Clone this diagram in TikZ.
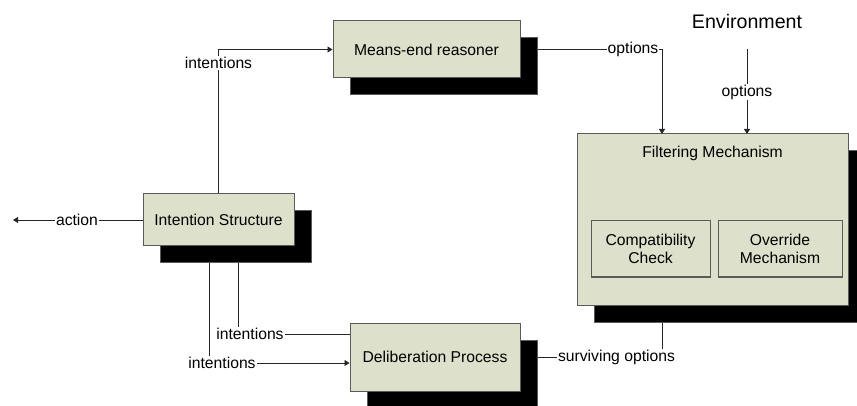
\documentclass[tikz,border=0pt]{standalone}
\usepackage{fontspec}
\setmainfont{Liberation Sans}
\usetikzlibrary{arrows.meta,shadows,calc}
\definecolor{boxfill}{HTML}{DDE0CB}
\definecolor{boxline}{HTML}{5A5A5A}
\begin{document}
\begin{tikzpicture}[x=1pt,y=-1pt,
  every node/.style={font=\fontsize{15.7}{18.3}\selectfont},
  block/.style={draw=boxline, fill=boxfill, line width=1pt, inner sep=0pt, align=center,
    general shadow={shadow xshift=17pt, shadow yshift=-17pt, fill=black, draw=boxline}},
  innerbox/.style={draw=boxline, fill=boxfill, line width=1pt, inner sep=0pt, align=center},
  conn/.style={draw=black!85, line width=0.9pt},
  tip/.style={-{Triangle[length=5pt,width=6pt]}},
  lab/.style={fill=white, inner sep=1pt}]
\useasboundingbox (0,0) rectangle (857,406);

% blocks
\node[block, minimum width=187pt, minimum height=57pt] (me) at (426.5,49.5) {Means-end reasoner};
\node[block, minimum width=271pt, minimum height=171pt] (fm) at (712.5,219.5) {};
\node (fmt) at (712.5,153) {Filtering Mechanism};
\node[innerbox, minimum width=119pt, minimum height=56pt] (cc) at (650.5,249) {Compatibility\\Check};
\node[innerbox, minimum width=124pt, minimum height=56pt] (om) at (780,249) {Override\\Mechanism};
\node[block, minimum width=151pt, minimum height=52pt] (is) at (218.5,220) {Intention Structure};
\node[block, minimum width=170pt, minimum height=68pt] (dp) at (435,357) {Deliberation Process};
\node[font=\fontsize{19.6}{22}\selectfont] (env) at (747,21) {Environment};

% connector ends and corners
\coordinate (act) at (13,220);
\coordinate (meout) at ([xshift=17pt]me.east);
\coordinate (c1) at (662,49.5);
\coordinate (f1) at (662,134);
\coordinate (envlow) at (747,49);
\coordinate (f2) at (747,134);
\coordinate (fmout) at (662,323);
\coordinate (c2) at (662,357);
\coordinate (dpout) at ([xshift=17pt]dp.east);
\coordinate (c3) at (218.5,49.5);
\coordinate (isa) at (238,263);
\coordinate (c4) at (238,334);
\coordinate (d1) at (dp.west |- c4);
\coordinate (isb) at (209,263);
\coordinate (c5) at (209,363);
\coordinate (d2) at (dp.west |- c5);

% connectors
\draw[conn, tip] (is.north) -- (c3) -- (me.west);
\draw[conn, tip] (is.west) -- (act);
\draw[conn, tip] (meout) -- (c1) -- (f1);
\draw[conn, tip] (envlow) -- (f2);
\draw[conn] (fmout) -- (c2) -- (dpout);
\draw[conn] (isa) -- (c4) -- (d1);
\draw[conn, tip] (isb) -- (c5) -- (d2);

% connector labels
\node[lab] (l1) at (218.5,63) {intentions};
\node[lab] (l2) at (77,220) {action};
\node[lab] (l3) at (633,49.5) {options};
\node[lab] (l4) at (747,92) {options};
\node[lab] (l5) at (616.5,357) {surviving options};
\node[lab] (l6) at (250,334) {intentions};
\node[lab] (l7) at (222,363) {intentions};
\end{tikzpicture}
\end{document}
